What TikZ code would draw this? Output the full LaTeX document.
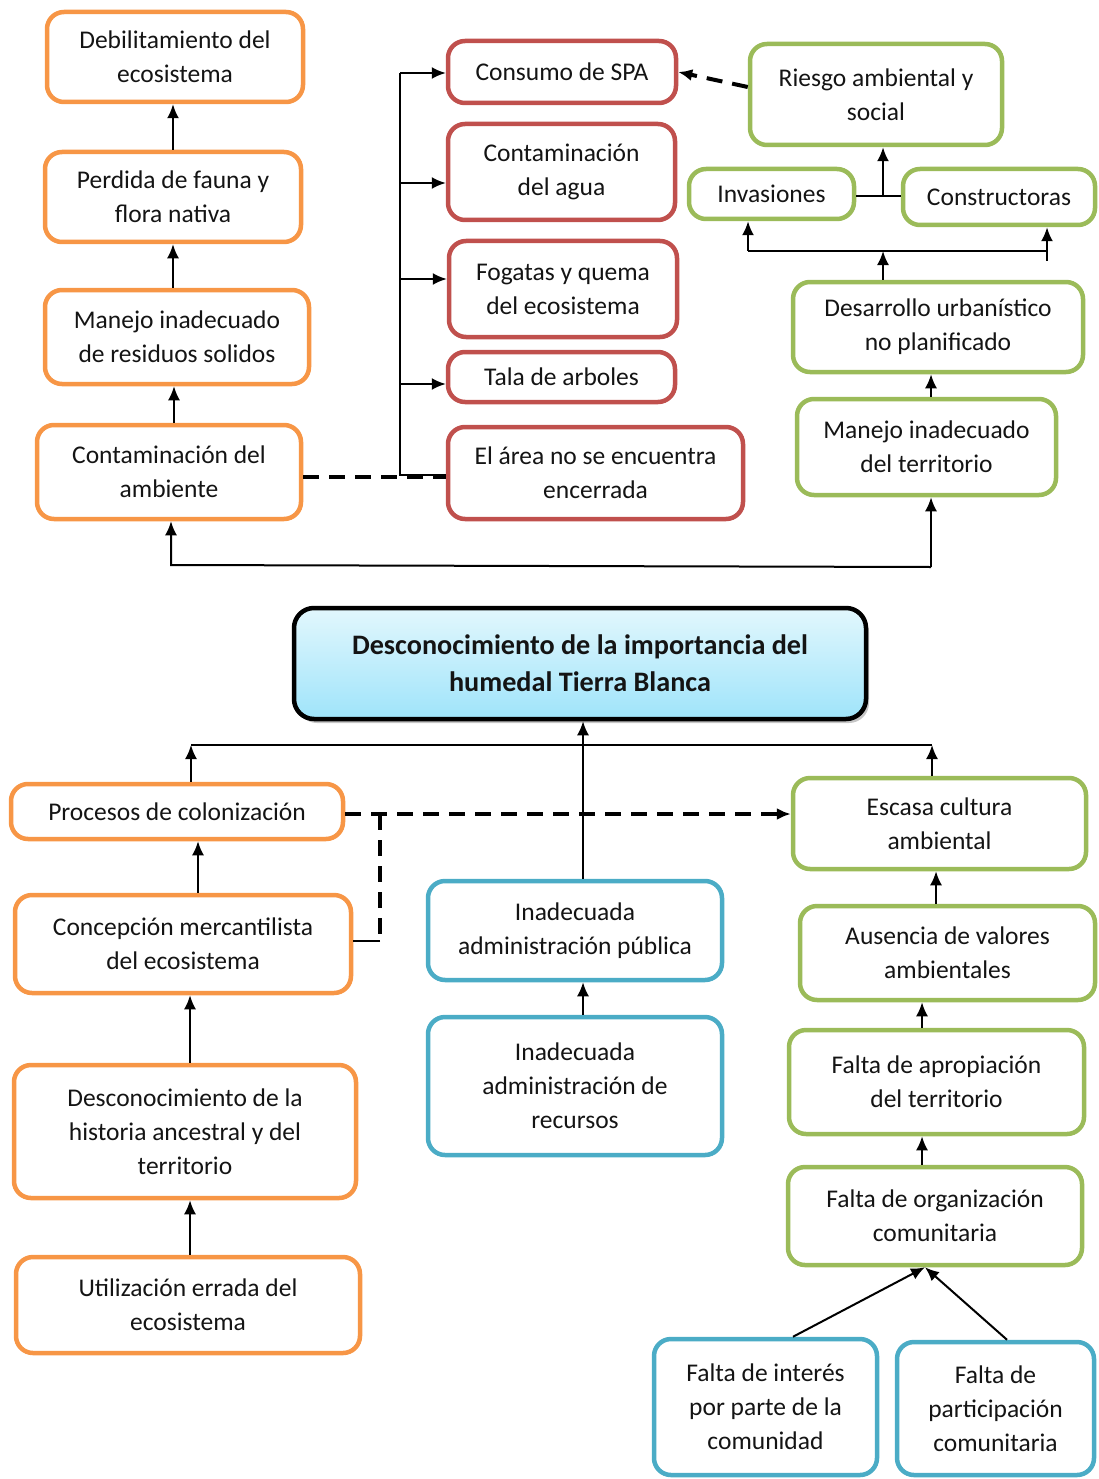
\documentclass[tikz,border=0pt]{standalone}
\usepackage{fontspec}
\setmainfont{Carlito}
\usetikzlibrary{arrows.meta,shadows}
\definecolor{cor}{HTML}{F79646}
\definecolor{cred}{HTML}{C0504D}
\definecolor{cgr}{HTML}{9BBB59}
\definecolor{cbl}{HTML}{4BACC6}
\definecolor{ttop}{HTML}{E2F7FD}
\definecolor{tbot}{HTML}{9FE4FA}
\definecolor{txt}{HTML}{141414}
\tikzset{
  box/.style={draw=#1, line width=4.5pt, rounded corners=17pt, fill=white, align=center, text=txt,
    font=\fontsize{25.5}{34}\selectfont, inner sep=0pt},
  ob/.style={box=cor}, rb/.style={box=cred}, gb/.style={box=cgr}, bb/.style={box=cbl},
  conn/.style={line width=2pt, draw=black},
  arr/.style={conn, -{Latex[length=14pt,width=12pt]}},
  dsh/.style={line width=4pt, dash pattern=on 16pt off 10pt},
  darr/.style={dsh, -{Latex[length=14pt,width=12pt]}},
  titlebox/.style={draw=black, line width=4.5pt, rounded corners=20pt, top color=ttop, bottom color=tbot,
    drop shadow={shadow xshift=3pt, shadow yshift=-4pt, opacity=0.45},
    align=center, text=txt, font=\fontsize{28.2}{37}\selectfont\bfseries, inner sep=0pt}
}
\begin{document}
\begin{tikzpicture}[x=1pt,y=-1pt]
\useasboundingbox (0,0) rectangle (1099,1479);
% top-left orange
\node[ob, minimum width=256, minimum height=90] (deb) at (175,57) {Debilitamiento del\\ecosistema};
\node[ob, minimum width=256, minimum height=90] (perd) at (173,197) {Perdida de fauna y\\flora nativa};
\node[ob, minimum width=264, minimum height=94] (manres) at (177,337) {Manejo inadecuado\\de residuos solidos};
\node[ob, minimum width=264, minimum height=94] (contamb) at (169,472) {Contaminación del\\ambiente};
% red
\node[rb, minimum width=228, minimum height=62] (spa) at (562,72) {Consumo de SPA};
\node[rb, minimum width=227, minimum height=96] (agua) at (561.5,172) {Contaminación\\del agua};
\node[rb, minimum width=228, minimum height=96] (fog) at (563,289) {Fogatas y quema\\del ecosistema};
\node[rb, minimum width=227, minimum height=50] (tala) at (561.5,377) {Tala de arboles};
\node[rb, minimum width=295, minimum height=92] (area) at (595.5,473) {El área no se encuentra\\encerrada};
% green top right
\node[gb, minimum width=252, minimum height=101] (riesgo) at (876,94.5) {Riesgo ambiental y\\social};
\node[gb, minimum width=165, minimum height=50] (inv) at (771.5,194) {Invasiones};
\node[gb, minimum width=192, minimum height=56] (constr) at (999,197) {Constructoras};
\node[gb, minimum width=290, minimum height=90] (desurb) at (938,327) {Desarrollo urbanístico\\no planificado};
\node[gb, minimum width=259, minimum height=96] (mterr) at (926.5,447) {Manejo inadecuado\\del territorio};
% title
\node[titlebox, minimum width=572, minimum height=111] (title) at (580,663.5) {Desconocimiento de la importancia del\\humedal Tierra Blanca};
% bottom left orange
\node[ob, minimum width=332, minimum height=55] (proc) at (177,811.5) {Procesos de colonización};
\node[ob, minimum width=336, minimum height=98] (conc) at (183,944) {Concepción mercantilista\\del ecosistema};
\node[ob, minimum width=342, minimum height=133] (desc) at (185,1131.5) {Desconocimiento de la\\historia ancestral y del\\territorio};
\node[ob, minimum width=344, minimum height=96] (util) at (188,1305) {Utilización errada del\\ecosistema};
% blue middle
\node[bb, minimum width=294, minimum height=99] (admpub) at (575,930.5) {Inadecuada\\administración pública};
\node[bb, minimum width=294, minimum height=138] (admrec) at (575,1086) {Inadecuada\\administración de\\recursos};
% green bottom right
\node[gb, minimum width=293, minimum height=91] (escasa) at (939.5,823.5) {Escasa cultura\\ambiental};
\node[gb, minimum width=295, minimum height=94] (ausencia) at (947.5,953) {Ausencia de valores\\ambientales};
\node[gb, minimum width=295, minimum height=104] (apro) at (936.5,1082) {Falta de apropiación\\del territorio};
\node[gb, minimum width=294, minimum height=98] (org) at (935,1216) {Falta de organización\\comunitaria};
\node[bb, minimum width=223, minimum height=136] (interes) at (765.5,1407) {Falta de interés\\por parte de la\\comunidad};
\node[bb, minimum width=197, minimum height=133] (partic) at (995.5,1408.5) {Falta de\\participación\\comunitaria};

% ---- connectors top-left
\draw[arr] (perd.south |- manres.north) -- (perd.south);
\draw[arr] (perd.north) -- (perd.north |- deb.south);
\coordinate (a1) at (174,400);
\draw[arr] (a1 |- contamb.north) -- (a1 |- manres.south);
% bracket to red boxes
\coordinate (b1) at (400,73);
\coordinate (b2) at (400,183);
\coordinate (b3) at (400,279);
\coordinate (b4) at (400,384);
\coordinate (b5) at (400,475);
\draw[conn] (b1) -- (b5) -- (b5 -| area.west);
\draw[arr] (b1) -- (b1 -| spa.west);
\draw[arr] (b2) -- (b2 -| agua.west);
\draw[arr] (b3) -- (b3 -| fog.west);
\draw[arr] (b4) -- (b4 -| tala.west);
\coordinate (d1) at (303,477);
\draw[dsh] (d1 -| contamb.east) -- (d1 -| area.west);
% riesgo dashed
\coordinate (r1) at (748,87);
\draw[darr] (r1 -| riesgo.west) -- (spa.east);
% invasiones/constructoras
\coordinate (j1) at (883,196);
\draw[conn] (j1 -| inv.east) -- (j1 -| constr.west);
\draw[arr] (j1) -- (j1 |- riesgo.south);
\coordinate (h1) at (748,251);
\coordinate (h2) at (1047,251);
\coordinate (h3) at (883,251);
\coordinate (h4) at (1047,261);
\draw[conn] (h1) -- (h2) -- (h4);
\draw[arr] (h1) -- (h1 |- inv.south);
\draw[arr] (h2) -- (h2 |- constr.south);
\draw[arr] (h3 |- desurb.north) -- (h3);
\coordinate (m1) at (931,567);
\coordinate (m2) at (171,565);
\draw[arr] (m1 |- mterr.north) -- (m1 |- desurb.south);
\draw[arr] (m1) -- (m1 |- mterr.south);
\draw[arr] (m1) -- (m2) -- (m2 |- contamb.south);

% ---- bottom half
\coordinate (t1) at (191,745);
\coordinate (t2) at (932,745);
\coordinate (t3) at (583,745);
\draw[conn] (t1) -- (t2);
\draw[arr] (t1 |- proc.north) -- (t1);
\draw[arr] (t2 |- escasa.north) -- (t2);
\draw[arr] (t3 |- admpub.north) -- (t3 |- title.south);
\draw[arr] (t3 |- admrec.north) -- (t3 |- admpub.south);
\coordinate (c1) at (198,868);
\draw[arr] (c1 |- conc.north) -- (c1 |- proc.south);
\coordinate (c2) at (190,1030);
\draw[arr] (c2 |- desc.north) -- (c2 |- conc.south);
\draw[arr] (c2 |- util.north) -- (c2 |- desc.south);
\coordinate (k1) at (380,814);
\coordinate (k2) at (380,941);
\draw[darr] (k1 -| proc.east) -- (k1 -| escasa.west);
\draw[dsh] (k1) -- (k2);
\draw[conn] (k2) -- (k2 -| conc.east);
\coordinate (g1) at (936,888);
\draw[arr] (g1 |- ausencia.north) -- (g1 |- escasa.south);
\coordinate (g2) at (922,1015);
\draw[arr] (g2 |- apro.north) -- (g2 |- ausencia.south);
\draw[arr] (g2 |- org.north) -- (g2 |- apro.south);
\coordinate (o1) at (925,1268);
\coordinate (q1) at (793,1337);
\coordinate (q2) at (1007,1340);
\draw[arr] (q1 |- interes.north) -- (o1 |- org.south);
\draw[arr] (q2 |- partic.north) -- (o1 |- org.south);
\end{tikzpicture}
\end{document}
